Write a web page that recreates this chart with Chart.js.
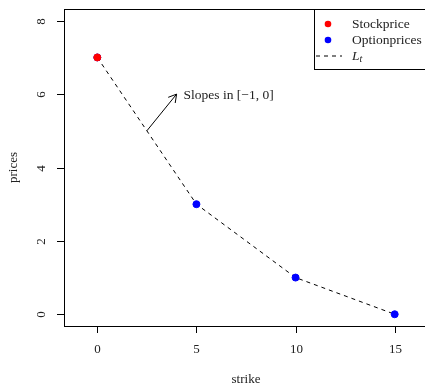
<!DOCTYPE html>
<html>
<head>
<meta charset="utf-8">
<script src="https://cdn.jsdelivr.net/npm/chart.js@4"></script>
<style>
  html, body { margin: 0; padding: 0; background: #fff; overflow: hidden; }
  #wrap { width: 425px; height: 385px; overflow: hidden; }
</style>
</head>
<body>
<div id="wrap"><canvas id="chart" width="440" height="385"></canvas></div>
<script>
const strikes = [0, 5, 10, 15];
const optionPrices = [7, 3, 1, 0];
const stockStrike = [0];
const stockPrice = [7];
const xTicks = [0, 5, 10, 15];
const yTicks = [0, 2, 4, 6, 8];
const arrowFrom = [2.5, 5];
const arrowTo = [4, 6];
const noteText = 'Slopes in [\u22121, 0]';
const legendNames = ['Stockprice', 'Optionprices', 'L'];

const FAM = '"Liberation Serif", "DejaVu Serif", serif';
const FONT = '13px ' + FAM;

function pts(xs, ys) {
  return xs.map((x, i) => ({ x: x, y: ys[i] }));
}

const decor = {
  id: 'decor',
  afterDatasetsDraw(chart) {
    const ctx = chart.ctx;
    const a = chart.chartArea;
    const xs = chart.scales.x;
    const ys = chart.scales.y;
    ctx.save();
    ctx.strokeStyle = '#000';
    ctx.fillStyle = '#222';
    ctx.lineWidth = 1;

    // box
    ctx.strokeRect(Math.round(a.left) + 0.5, Math.round(a.top) + 0.5,
      Math.round(a.right - a.left), Math.round(a.bottom - a.top));

    ctx.font = FONT;
    // x axis ticks and labels
    ctx.textAlign = 'center';
    ctx.textBaseline = 'middle';
    xTicks.forEach(v => {
      const px = Math.round(xs.getPixelForValue(v)) + 0.5;
      ctx.beginPath();
      ctx.moveTo(px, a.bottom);
      ctx.lineTo(px, a.bottom + 7);
      ctx.stroke();
      ctx.fillText(String(v), px, 350);
    });
    // y axis ticks and labels (rotated)
    yTicks.forEach(v => {
      const py = Math.round(ys.getPixelForValue(v)) + 0.5;
      ctx.beginPath();
      ctx.moveTo(a.left - 7, py);
      ctx.lineTo(a.left, py);
      ctx.stroke();
      ctx.save();
      ctx.translate(42, py);
      ctx.rotate(-Math.PI / 2);
      ctx.fillText(String(v), 0, 0);
      ctx.restore();
    });
    // axis titles
    ctx.fillText('strike', (a.left + a.right) / 2, 380);
    ctx.save();
    ctx.translate(14, (a.top + a.bottom) / 2);
    ctx.rotate(-Math.PI / 2);
    ctx.fillText('prices', 0, 0);
    ctx.restore();

    // arrow
    const x0 = xs.getPixelForValue(arrowFrom[0]), y0 = ys.getPixelForValue(arrowFrom[1]);
    const x1 = xs.getPixelForValue(arrowTo[0]), y1 = ys.getPixelForValue(arrowTo[1]);
    const ang = Math.atan2(y1 - y0, x1 - x0);
    const hl = 9;
    ctx.beginPath();
    ctx.moveTo(x0, y0);
    ctx.lineTo(x1, y1);
    ctx.moveTo(x1 - hl * Math.cos(ang - Math.PI / 6), y1 - hl * Math.sin(ang - Math.PI / 6));
    ctx.lineTo(x1, y1);
    ctx.lineTo(x1 - hl * Math.cos(ang + Math.PI / 6), y1 - hl * Math.sin(ang + Math.PI / 6));
    ctx.stroke();
    ctx.textAlign = 'left';
    ctx.font = '13.5px ' + FAM;
    ctx.fillText(noteText, x1 + 7, y1 + 1);

    // legend
    const lx = 314, ly = Math.round(a.top) + 0.5;
    ctx.fillStyle = '#fff';
    ctx.fillRect(lx, ly, 140, 60);
    ctx.strokeRect(lx + 0.5, ly, 140, 60);
    const rows = [ly + 14.5, ly + 30.5, ly + 46.5];
    ctx.fillStyle = '#ff0000';
    ctx.beginPath(); ctx.arc(328, rows[0], 3.3, 0, Math.PI * 2); ctx.fill();
    ctx.fillStyle = '#0000ff';
    ctx.beginPath(); ctx.arc(328, rows[1], 3.3, 0, Math.PI * 2); ctx.fill();
    ctx.setLineDash([4, 4]);
    ctx.beginPath(); ctx.moveTo(316, rows[2]); ctx.lineTo(342, rows[2]); ctx.stroke();
    ctx.setLineDash([]);
    ctx.fillStyle = '#222';
    ctx.font = '13.5px ' + FAM;
    ctx.fillText(legendNames[0], 352, rows[0]);
    ctx.fillText(legendNames[1], 352, rows[1]);
    ctx.font = 'italic 13.5px ' + FAM;
    ctx.fillText(legendNames[2], 352, rows[2]);
    const lw = ctx.measureText(legendNames[2]).width;
    ctx.font = 'italic 10px ' + FAM;
    ctx.fillText('t', 352 + lw, rows[2] + 3);
    ctx.restore();
  }
};

new Chart(document.getElementById('chart'), {
  type: 'scatter',
  data: {
    datasets: [
      {
        label: 'Stockprice',
        data: pts(stockStrike, stockPrice),
        backgroundColor: '#ff0000',
        borderColor: '#ff0000',
        pointRadius: 3.5,
        order: 0
      },
      {
        label: 'Optionprices',
        data: pts(strikes, optionPrices),
        backgroundColor: '#0000ff',
        borderColor: '#0000ff',
        pointRadius: 3.5,
        order: 1
      },
      {
        label: 'L_t',
        data: pts(strikes, optionPrices),
        showLine: true,
        borderColor: '#000',
        borderWidth: 1,
        borderDash: [4, 4],
        pointRadius: 0,
        fill: false,
        order: 2
      }
    ]
  },
  options: {
    responsive: false,
    animation: false,
    devicePixelRatio: 1,
    layout: { padding: { left: 64, top: 9, right: 12, bottom: 59 } },
    plugins: { legend: { display: false }, tooltip: { enabled: false } },
    scales: {
      x: { type: 'linear', min: -1.68, max: 16.68, display: false },
      y: { type: 'linear', min: -0.32, max: 8.32, display: false }
    }
  },
  plugins: [decor]
});
</script>
</body>
</html>
